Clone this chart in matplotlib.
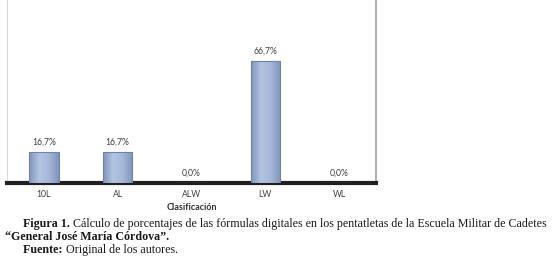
import numpy as np
import matplotlib.pyplot as plt
from matplotlib.colors import LinearSegmentedColormap

# datos
categorias = ['10L', 'AL', 'ALW', 'LW', 'WL']
porcentajes = [16.7, 16.7, 0.0, 66.7, 0.0]
etiquetas = ['16,7%', '16,7%', '0,0%', '66,7%', '0,0%']

W, H = 554, 263
fig = plt.figure(figsize=(W / 100, H / 100), dpi=100)
ax = fig.add_axes([7 / W, (263 - 183) / H, (376 - 7) / W, 183 / H])

x = np.arange(len(categorias))
barras = ax.bar(x, porcentajes, width=0.4, color='none', edgecolor='#6f83a6', linewidth=0.8, zorder=4)
# degradado horizontal dentro de cada barra
cmap = LinearSegmentedColormap.from_list('g', ['#8095bb', '#b3c4e2', '#a6b8d9', '#8095bb'])
grad = np.linspace(0, 1, 64).reshape(1, -1)
for b in barras:
    if b.get_height() <= 0:
        continue
    im = ax.imshow(grad, cmap=cmap, aspect='auto', zorder=3,
                   extent=[b.get_x(), b.get_x() + b.get_width(), 0, b.get_height()])
    im.set_clip_path(b)

for xi, v, t in zip(x, porcentajes, etiquetas):
    ax.text(xi, v + 3, t, ha='center', va='bottom', fontsize=6.2, color='#404040', family='Lato')

ax.set_xlim(-0.5, len(categorias) - 0.5)
ax.set_ylim(0, 100)
ax.set_yticks([])
ax.set_xticks(x)
ax.set_xticklabels(categorias, fontsize=6.2, color='#404040', family='Lato')
ax.tick_params(axis='x', length=0, pad=5)
ax.spines['top'].set_visible(False)
ax.spines['left'].set_color('#d8d8d8')
ax.spines['right'].set_color('#b0b0b0')
ax.spines['right'].set_linewidth(1.5)
ax.spines['bottom'].set_color('#202020')
ax.spines['bottom'].set_linewidth(3)
ax.set_xlabel('Clasificación', fontsize=6.5, color='#303030', family='Lato', fontweight='bold', labelpad=3)

# pie de figura
r = fig.canvas.get_renderer()
fam = 'Liberation Serif'

def ancho(partes, fs):
    tot = 0
    for txt, peso in partes:
        t = fig.text(0, 0, txt, fontsize=fs, family=fam, fontweight=peso)
        tot += t.get_window_extent(renderer=r).width
        t.remove()
    return tot

def linea(x0, y0, partes, fs):
    xx = x0
    for txt, peso in partes:
        t = fig.text(xx / W, 1 - y0 / H, txt, fontsize=fs, family=fam, fontweight=peso,
                     va='center', ha='left', color='#1a1a1a')
        xx += t.get_window_extent(renderer=r).width

l1 = [('Figura 1. ', 'bold'), ('Cálculo de porcentajes de las fórmulas digitales en los pentatletas de la Escuela Militar de Cadetes', 'normal')]
fs = 7.0 * (552 - 23) / ancho(l1, 7.0)
linea(23, 224, l1, fs)
linea(5, 237, [('“General José María Córdova”.', 'bold')], fs)
linea(23, 250, [('Fuente: ', 'bold'), ('Original de los autores.', 'normal')], fs)

plt.savefig('out.png', dpi=100)
